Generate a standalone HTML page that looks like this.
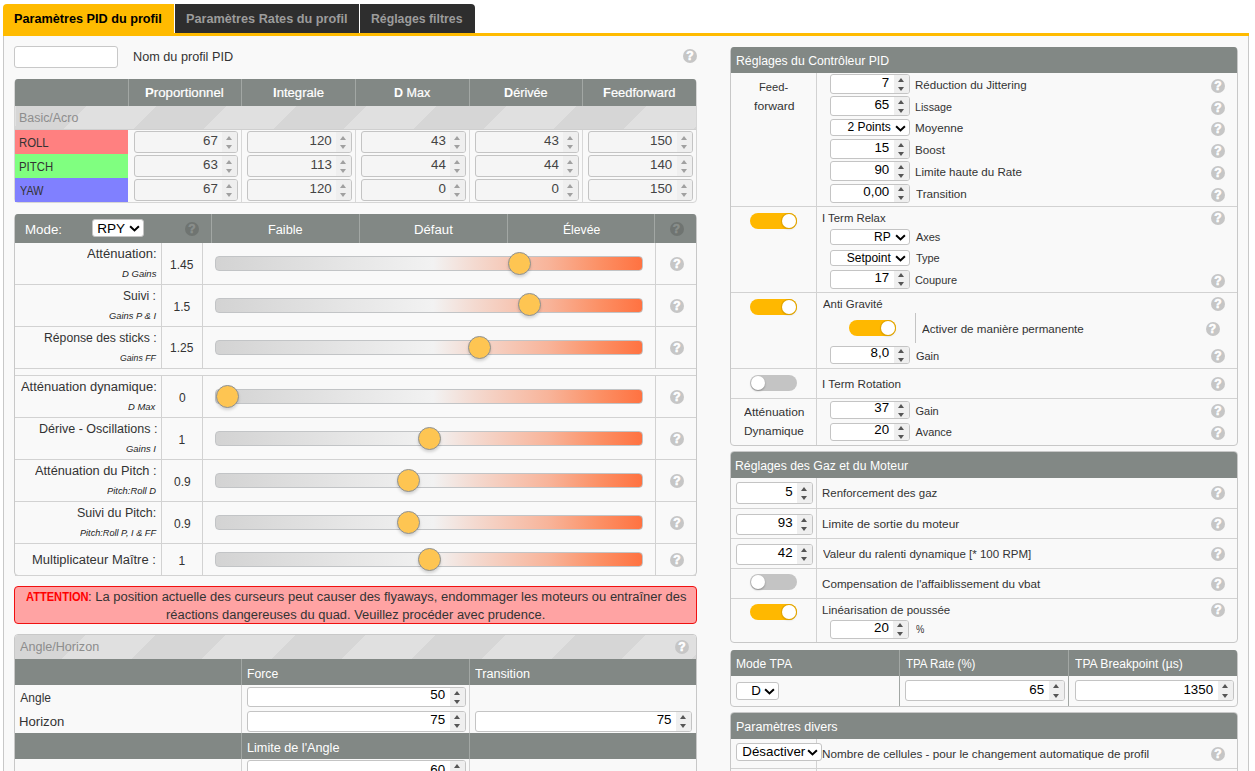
<!DOCTYPE html>
<html lang="fr"><head><meta charset="utf-8"><title>PID Tuning</title>
<style>
*{margin:0;padding:0;box-sizing:border-box}
html,body{width:1255px;height:771px;overflow:hidden;background:#fff}
body{position:relative;font-family:"Liberation Sans", Arial, sans-serif;color:#333}
body>div{position:absolute}
.t{white-space:nowrap}
.hp{width:14px;height:14px;border-radius:50%;background:#c6c6c6;color:#fff;font:bold 12px/14.5px "Liberation Sans", Arial, sans-serif;text-align:center;-webkit-text-stroke:0.6px #fff}
.hp.dk{background:#6f7471;color:#8a8f8c;-webkit-text-stroke:0.6px #8a8f8c}
.ni{background:#fff;border:1px solid #c4c4c4;border-radius:3px;color:#000;white-space:nowrap;overflow:hidden}
.ni.dis{background:#f5f5f5;color:#444}
.ni .v{position:absolute;right:19.5px;top:-1.5px}
.ni .sp{position:absolute;right:0;top:0;bottom:0;width:15px;background:#efefef}
.ni .sp:before,.ni .sp:after{content:"";position:absolute;left:4px;border-left:3.5px solid transparent;border-right:3.5px solid transparent}
.ni .sp:before{top:calc(50% - 6.2px);border-bottom:4px solid #555}
.ni .sp:after{bottom:calc(50% - 7px);border-top:4px solid #555}
.ni.dis .sp:before{border-bottom-color:#a0a0a0}
.ni.dis .sp:after{border-top-color:#a0a0a0}
.sel{background:#fff;border:1px solid #c4c4c4;border-radius:3px;color:#000;white-space:nowrap;overflow:hidden}
.sel .v{position:absolute;top:0}
.sel .chev{position:absolute;right:3px;top:50%;margin-top:-3px}
.tg{width:47px;height:16px;border-radius:8px;background:#c4c4c4}
.tg i{position:absolute;left:1px;top:1px;width:14px;height:14px;border-radius:50%;background:#fff;box-shadow:0 1px 2px rgba(0,0,0,.3)}
.tg.on{background:#ffb800}
.tg.on i{left:32px;box-shadow:0 0 0 1px #e0a400,0 1px 2px rgba(0,0,0,.25)}
.trk{border-radius:4px;border:1px solid #c2c4c6;background:linear-gradient(90deg,#d3d3d3 0%,#f2f2f2 51%,#f4d9cf 61%,#f8b49a 78%,#fc9065 90%,#ff7241 100%)}
.thumb{width:23px;height:23px;border-radius:50%;background:#fec552;border:1px solid #8c9196;box-shadow:0 2px 3px rgba(0,0,0,.15)}
</style></head><body>
<div style="left:3px;top:4px;width:171px;height:29px;background:#ffbb00;border-radius:4px 0 0 0"></div>
<div class="t" style="left:14.29px;top:11px;font-size:12.5px;line-height:16px;font-weight:bold;color:#000;transform:scaleX(1.0132);transform-origin:0 0;">Paramètres PID du profil</div>
<div style="left:175px;top:4px;width:184px;height:29px;background:#2e2e2e"></div>
<div class="t" style="left:186.18px;top:11px;font-size:12.5px;line-height:16px;font-weight:bold;color:#9c9c9c;transform:scaleX(1.0153);transform-origin:0 0;">Paramètres Rates du profil</div>
<div style="left:360px;top:4px;width:114.5px;height:29px;background:#2e2e2e;border-radius:0 4px 0 0"></div>
<div class="t" style="left:371.42px;top:11px;font-size:12.5px;line-height:16px;font-weight:bold;color:#9c9c9c;transform:scaleX(0.9826);transform-origin:0 0;">Réglages filtres</div>
<div style="left:3px;top:33px;width:1246px;height:3px;background:#ffbb00"></div>
<div style="left:3px;top:36px;width:1246px;height:735px;background:#f9f9f9;border-left:1px solid #c8c8c8;border-right:1px solid #c8c8c8"></div>
<div style="left:14px;top:46px;width:104px;height:22px;background:#fff;border:1px solid #c8c8c8;border-radius:3px"></div>
<div class="t" style="left:132.74px;top:50px;font-size:12px;line-height:15px;font-weight:normal;color:#333;transform:scaleX(1.0570);transform-origin:0 0;">Nom du profil PID</div>
<div class="hp" style="left:683px;top:48.7px">?</div>
<div style="left:14px;top:78.5px;width:683px;height:124.5px;background:#f9f9f9;border:1px solid #d6d6d6;border-radius:4px"></div>
<div style="left:15px;top:78.5px;width:681px;height:27.5px;background:#828885;border-radius:3px 3px 0 0"></div>
<div style="left:128.0px;top:78.5px;width:1px;height:27.5px;background:#a2a7a4"></div>
<div class="t" style="left:145.20px;top:86px;font-size:12px;line-height:15px;font-weight:normal;color:#fff;transform:scaleX(1.1029);transform-origin:0 0;-webkit-text-stroke:0.2px #fff;"><b style="color:#fff;-webkit-text-stroke:0">P</b>roportionnel</div>
<div style="left:241.0px;top:78.5px;width:1px;height:27.5px;background:#a2a7a4"></div>
<div class="t" style="left:273.31px;top:86px;font-size:12px;line-height:15px;font-weight:normal;color:#fff;transform:scaleX(1.0911);transform-origin:0 0;-webkit-text-stroke:0.2px #fff;"><b style="color:#fff;-webkit-text-stroke:0">I</b>ntegrale</div>
<div style="left:355.0px;top:78.5px;width:1px;height:27.5px;background:#a2a7a4"></div>
<div class="t" style="left:393.76px;top:86px;font-size:12px;line-height:15px;font-weight:normal;color:#fff;transform:scaleX(1.0441);transform-origin:0 0;-webkit-text-stroke:0.2px #fff;"><b style="color:#fff;-webkit-text-stroke:0">D</b> Max</div>
<div style="left:469.0px;top:78.5px;width:1px;height:27.5px;background:#a2a7a4"></div>
<div class="t" style="left:503.75px;top:86px;font-size:12px;line-height:15px;font-weight:normal;color:#fff;transform:scaleX(1.0550);transform-origin:0 0;-webkit-text-stroke:0.2px #fff;"><b style="color:#fff;-webkit-text-stroke:0">D</b>érivée</div>
<div style="left:582.0px;top:78.5px;width:1px;height:27.5px;background:#a2a7a4"></div>
<div class="t" style="left:603.23px;top:86px;font-size:12px;line-height:15px;font-weight:normal;color:#fff;transform:scaleX(1.0742);transform-origin:0 0;-webkit-text-stroke:0.2px #fff;"><b style="color:#fff;-webkit-text-stroke:0">F</b>eedforward</div>
<div style="left:15px;top:106px;width:681px;height:23.7px;background:repeating-linear-gradient(135deg,#d6d6d6 0px,#d6d6d6 49.5px,#e0e0e0 49.5px,#e0e0e0 99px);background-position:1px 0"></div>
<div class="t" style="left:19.17px;top:111px;font-size:12px;line-height:15px;font-weight:normal;color:#8d8d8d;transform:scaleX(1.0339);transform-origin:0 0;">Basic/Acro</div>
<div style="left:15px;top:129.2px;width:681px;height:1px;background:#cfcfcf"></div>
<div style="left:15px;top:130px;width:113px;height:24.2px;background:#ff8080"></div>
<div class="t" style="left:19.25px;top:136px;font-size:12px;line-height:15px;font-weight:normal;color:#333;transform:scaleX(0.9467);transform-origin:0 0;">ROLL</div>
<div class="ni dis" style="left:134.3px;top:131.3px;width:104.0px;height:21.5px;line-height:19.5px;font-size:13.33px"><span class="v">67</span><span class="sp"></span></div>
<div class="ni dis" style="left:247.3px;top:131.3px;width:105.0px;height:21.5px;line-height:19.5px;font-size:13.33px"><span class="v">120</span><span class="sp"></span></div>
<div class="ni dis" style="left:361.3px;top:131.3px;width:105.0px;height:21.5px;line-height:19.5px;font-size:13.33px"><span class="v">43</span><span class="sp"></span></div>
<div class="ni dis" style="left:475.3px;top:131.3px;width:103.99999999999994px;height:21.5px;line-height:19.5px;font-size:13.33px"><span class="v">43</span><span class="sp"></span></div>
<div class="ni dis" style="left:588.3px;top:131.3px;width:104.5px;height:21.5px;line-height:19.5px;font-size:13.33px"><span class="v">150</span><span class="sp"></span></div>
<div style="left:15px;top:154px;width:113px;height:24.2px;background:#80ff80"></div>
<div class="t" style="left:19.25px;top:160px;font-size:12px;line-height:15px;font-weight:normal;color:#333;transform:scaleX(0.9471);transform-origin:0 0;">PITCH</div>
<div class="ni dis" style="left:134.3px;top:155.3px;width:104.0px;height:21.5px;line-height:19.5px;font-size:13.33px"><span class="v">63</span><span class="sp"></span></div>
<div class="ni dis" style="left:247.3px;top:155.3px;width:105.0px;height:21.5px;line-height:19.5px;font-size:13.33px"><span class="v">113</span><span class="sp"></span></div>
<div class="ni dis" style="left:361.3px;top:155.3px;width:105.0px;height:21.5px;line-height:19.5px;font-size:13.33px"><span class="v">44</span><span class="sp"></span></div>
<div class="ni dis" style="left:475.3px;top:155.3px;width:103.99999999999994px;height:21.5px;line-height:19.5px;font-size:13.33px"><span class="v">44</span><span class="sp"></span></div>
<div class="ni dis" style="left:588.3px;top:155.3px;width:104.5px;height:21.5px;line-height:19.5px;font-size:13.33px"><span class="v">140</span><span class="sp"></span></div>
<div style="left:15px;top:178px;width:113px;height:24.2px;background:#8080ff"></div>
<div class="t" style="left:20.20px;top:184px;font-size:12px;line-height:15px;font-weight:normal;color:#333;transform:scaleX(0.9000);transform-origin:0 0;">YAW</div>
<div class="ni dis" style="left:134.3px;top:179.3px;width:104.0px;height:21.5px;line-height:19.5px;font-size:13.33px"><span class="v">67</span><span class="sp"></span></div>
<div class="ni dis" style="left:247.3px;top:179.3px;width:105.0px;height:21.5px;line-height:19.5px;font-size:13.33px"><span class="v">120</span><span class="sp"></span></div>
<div class="ni dis" style="left:361.3px;top:179.3px;width:105.0px;height:21.5px;line-height:19.5px;font-size:13.33px"><span class="v">0</span><span class="sp"></span></div>
<div class="ni dis" style="left:475.3px;top:179.3px;width:103.99999999999994px;height:21.5px;line-height:19.5px;font-size:13.33px"><span class="v">0</span><span class="sp"></span></div>
<div class="ni dis" style="left:588.3px;top:179.3px;width:104.5px;height:21.5px;line-height:19.5px;font-size:13.33px"><span class="v">150</span><span class="sp"></span></div>
<div style="left:241.0px;top:130px;width:1px;height:72.3px;background:#d8d8d8"></div>
<div style="left:355.0px;top:130px;width:1px;height:72.3px;background:#d8d8d8"></div>
<div style="left:469.0px;top:130px;width:1px;height:72.3px;background:#d8d8d8"></div>
<div style="left:582.0px;top:130px;width:1px;height:72.3px;background:#d8d8d8"></div>
<div style="left:14px;top:213.7px;width:683px;height:362.40000000000003px;background:#f9f9f9;border:1px solid #c8c8c8;border-radius:4px"></div>
<div style="left:15px;top:214.0px;width:681px;height:29px;background:#828885;border-radius:3px 3px 0 0"></div>
<div class="t" style="left:24.89px;top:223px;font-size:12px;line-height:15px;font-weight:normal;color:#fff;transform:scaleX(1.1097);transform-origin:0 0;">Mode:</div>
<div class="sel" style="left:92.4px;top:219.4px;width:51.3px;height:17.9px;line-height:15.899999999999999px;font-size:13.6px"><span class="v" style="left:3.8px;top:0.8px">RPY</span><svg class="chev" width="11" height="7" viewBox="0 0 11 7"><path d="M1.1 1.2 L5.5 5.4 L9.9 1.2" fill="none" stroke="#000" stroke-width="2"/></svg></div>
<div class="hp dk" style="left:185px;top:221.7px">?</div>
<div style="left:210.8px;top:213.7px;width:1px;height:29.3px;background:#a2a7a4"></div>
<div style="left:359.0px;top:213.7px;width:1px;height:29.3px;background:#a2a7a4"></div>
<div style="left:507.1px;top:213.7px;width:1px;height:29.3px;background:#a2a7a4"></div>
<div style="left:654.1px;top:213.7px;width:1px;height:29.3px;background:#a2a7a4"></div>
<div class="t" style="left:268.14px;top:223px;font-size:12px;line-height:15px;font-weight:normal;color:#fff;transform:scaleX(1.0613);transform-origin:0 0;">Faible</div>
<div class="t" style="left:414.30px;top:223px;font-size:12px;line-height:15px;font-weight:normal;color:#fff;transform:scaleX(1.0971);transform-origin:0 0;">Défaut</div>
<div class="t" style="left:563.19px;top:223px;font-size:12px;line-height:15px;font-weight:normal;color:#fff;transform:scaleX(1.0143);transform-origin:0 0;">Élevée</div>
<div class="hp dk" style="left:669.5px;top:221.7px">?</div>
<div style="left:15px;top:283.5px;width:681px;height:1px;background:#d2d2d2"></div>
<div style="left:161.1px;top:243px;width:1px;height:41.10000000000002px;background:#d2d2d2"></div>
<div style="left:202px;top:243px;width:1px;height:41.10000000000002px;background:#d2d2d2"></div>
<div style="left:655px;top:243px;width:1px;height:41.10000000000002px;background:#d2d2d2"></div>
<div class="t" style="left:87.00px;top:247px;font-size:12px;line-height:15px;font-weight:normal;color:#333;transform:scaleX(1.0873);transform-origin:0 0;">Atténuation:</div>
<div class="t" style="left:121.80px;top:269px;font-size:9px;line-height:11px;font-weight:normal;font-style:italic;color:#1e1e1e;transform:scaleX(1.0594);transform-origin:0 0;">D Gains</div>
<div class="t" style="left:170.00px;top:258px;font-size:12px;line-height:15px;font-weight:normal;color:#333;">1.45</div>
<div class="trk" style="left:215px;top:256.25px;width:427.5px;height:14.8px;"></div>
<div class="thumb" style="left:507.9px;top:251.85000000000002px"></div>
<div class="hp" style="left:670px;top:257.05px">?</div>
<div style="left:15px;top:325.59999999999997px;width:681px;height:1px;background:#d2d2d2"></div>
<div style="left:161.1px;top:284.1px;width:1px;height:42.099999999999966px;background:#d2d2d2"></div>
<div style="left:202px;top:284.1px;width:1px;height:42.099999999999966px;background:#d2d2d2"></div>
<div style="left:655px;top:284.1px;width:1px;height:42.099999999999966px;background:#d2d2d2"></div>
<div class="t" style="left:123.29px;top:289px;font-size:12px;line-height:15px;font-weight:normal;color:#333;transform:scaleX(1.0065);transform-origin:0 0;">Suivi :</div>
<div class="t" style="left:108.80px;top:311px;font-size:9px;line-height:11px;font-weight:normal;font-style:italic;color:#1e1e1e;transform:scaleX(1.0422);transform-origin:0 0;">Gains P &amp; I</div>
<div class="t" style="left:173.50px;top:300px;font-size:12px;line-height:15px;font-weight:normal;color:#333;">1.5</div>
<div class="trk" style="left:215px;top:297.84999999999997px;width:427.5px;height:14.8px;"></div>
<div class="thumb" style="left:517.5px;top:293.45px"></div>
<div class="hp" style="left:670px;top:298.65px">?</div>
<div style="left:15px;top:368.0px;width:681px;height:1px;background:#d2d2d2"></div>
<div style="left:161.1px;top:326.2px;width:1px;height:42.400000000000034px;background:#d2d2d2"></div>
<div style="left:202px;top:326.2px;width:1px;height:42.400000000000034px;background:#d2d2d2"></div>
<div style="left:655px;top:326.2px;width:1px;height:42.400000000000034px;background:#d2d2d2"></div>
<div class="t" style="left:43.68px;top:331px;font-size:12px;line-height:15px;font-weight:normal;color:#333;transform:scaleX(1.0165);transform-origin:0 0;">Réponse des sticks :</div>
<div class="t" style="left:119.90px;top:353px;font-size:9px;line-height:11px;font-weight:normal;font-style:italic;color:#1e1e1e;transform:scaleX(0.9676);transform-origin:0 0;">Gains FF</div>
<div class="t" style="left:170.00px;top:341px;font-size:12px;line-height:15px;font-weight:normal;color:#333;">1.25</div>
<div class="trk" style="left:215px;top:340.09999999999997px;width:427.5px;height:14.8px;"></div>
<div class="thumb" style="left:467.5px;top:335.7px"></div>
<div class="hp" style="left:670px;top:340.9px">?</div>
<div style="left:15px;top:416.79999999999995px;width:681px;height:1px;background:#d2d2d2"></div>
<div style="left:161.1px;top:375.8px;width:1px;height:41.599999999999966px;background:#d2d2d2"></div>
<div style="left:202px;top:375.8px;width:1px;height:41.599999999999966px;background:#d2d2d2"></div>
<div style="left:655px;top:375.8px;width:1px;height:41.599999999999966px;background:#d2d2d2"></div>
<div class="t" style="left:20.90px;top:380px;font-size:12px;line-height:15px;font-weight:normal;color:#333;transform:scaleX(1.0768);transform-origin:0 0;">Atténuation dynamique:</div>
<div class="t" style="left:128.40px;top:402px;font-size:9px;line-height:11px;font-weight:normal;font-style:italic;color:#1e1e1e;transform:scaleX(1.0500);transform-origin:0 0;">D Max</div>
<div class="t" style="left:179.00px;top:391px;font-size:12px;line-height:15px;font-weight:normal;color:#333;">0</div>
<div class="trk" style="left:215px;top:389.3px;width:427.5px;height:14.8px;"></div>
<div class="thumb" style="left:215.9px;top:384.90000000000003px"></div>
<div class="hp" style="left:670px;top:390.1px">?</div>
<div style="left:15px;top:458.9px;width:681px;height:1px;background:#d2d2d2"></div>
<div style="left:161.1px;top:417.4px;width:1px;height:42.10000000000002px;background:#d2d2d2"></div>
<div style="left:202px;top:417.4px;width:1px;height:42.10000000000002px;background:#d2d2d2"></div>
<div style="left:655px;top:417.4px;width:1px;height:42.10000000000002px;background:#d2d2d2"></div>
<div class="t" style="left:38.56px;top:422px;font-size:12px;line-height:15px;font-weight:normal;color:#333;transform:scaleX(1.0441);transform-origin:0 0;">Dérive - Oscillations :</div>
<div class="t" style="left:126.30px;top:444px;font-size:9px;line-height:11px;font-weight:normal;font-style:italic;color:#1e1e1e;transform:scaleX(1.0500);transform-origin:0 0;">Gains I</div>
<div class="t" style="left:178.50px;top:433px;font-size:12px;line-height:15px;font-weight:normal;color:#333;">1</div>
<div class="trk" style="left:215px;top:431.15px;width:427.5px;height:14.8px;"></div>
<div class="thumb" style="left:417.5px;top:426.75px"></div>
<div class="hp" style="left:670px;top:431.95px">?</div>
<div style="left:15px;top:500.5px;width:681px;height:1px;background:#d2d2d2"></div>
<div style="left:161.1px;top:459.5px;width:1px;height:41.60000000000002px;background:#d2d2d2"></div>
<div style="left:202px;top:459.5px;width:1px;height:41.60000000000002px;background:#d2d2d2"></div>
<div style="left:655px;top:459.5px;width:1px;height:41.60000000000002px;background:#d2d2d2"></div>
<div class="t" style="left:35.10px;top:464px;font-size:12px;line-height:15px;font-weight:normal;color:#333;transform:scaleX(1.0655);transform-origin:0 0;">Atténuation du Pitch :</div>
<div class="t" style="left:106.80px;top:486px;font-size:9px;line-height:11px;font-weight:normal;font-style:italic;color:#1e1e1e;transform:scaleX(1.0404);transform-origin:0 0;">Pitch:Roll D</div>
<div class="t" style="left:174.00px;top:475px;font-size:12px;line-height:15px;font-weight:normal;color:#333;">0.9</div>
<div class="trk" style="left:215px;top:473.0px;width:427.5px;height:14.8px;"></div>
<div class="thumb" style="left:396.7px;top:468.6px"></div>
<div class="hp" style="left:670px;top:473.8px">?</div>
<div style="left:15px;top:543.0px;width:681px;height:1px;background:#d2d2d2"></div>
<div style="left:161.1px;top:501.1px;width:1px;height:42.5px;background:#d2d2d2"></div>
<div style="left:202px;top:501.1px;width:1px;height:42.5px;background:#d2d2d2"></div>
<div style="left:655px;top:501.1px;width:1px;height:42.5px;background:#d2d2d2"></div>
<div class="t" style="left:77.46px;top:506px;font-size:12px;line-height:15px;font-weight:normal;color:#333;transform:scaleX(1.0405);transform-origin:0 0;">Suivi du Pitch:</div>
<div class="t" style="left:79.60px;top:528px;font-size:9px;line-height:11px;font-weight:normal;font-style:italic;color:#1e1e1e;transform:scaleX(1.0147);transform-origin:0 0;">Pitch:Roll P, I &amp; FF</div>
<div class="t" style="left:174.00px;top:517px;font-size:12px;line-height:15px;font-weight:normal;color:#333;">0.9</div>
<div class="trk" style="left:215px;top:515.0500000000001px;width:427.5px;height:14.8px;"></div>
<div class="thumb" style="left:396.7px;top:510.65000000000003px"></div>
<div class="hp" style="left:670px;top:515.85px">?</div>
<div style="left:15px;top:575.0px;width:681px;height:1px;background:#d2d2d2"></div>
<div style="left:161.1px;top:543.6px;width:1px;height:32.0px;background:#d2d2d2"></div>
<div style="left:202px;top:543.6px;width:1px;height:32.0px;background:#d2d2d2"></div>
<div style="left:655px;top:543.6px;width:1px;height:32.0px;background:#d2d2d2"></div>
<div class="t" style="left:32.42px;top:553px;font-size:12px;line-height:15px;font-weight:normal;color:#333;transform:scaleX(1.0796);transform-origin:0 0;">Multiplicateur Maître :</div>
<div class="t" style="left:178.50px;top:554px;font-size:12px;line-height:15px;font-weight:normal;color:#333;">1</div>
<div class="trk" style="left:215px;top:552.3000000000001px;width:427.5px;height:14.8px;"></div>
<div class="thumb" style="left:417.5px;top:547.9px"></div>
<div class="hp" style="left:670px;top:553.1px">?</div>
<div style="left:15px;top:368.4px;width:681px;height:1px;background:#d2d2d2"></div>
<div style="left:15px;top:375.3px;width:681px;height:1px;background:#d2d2d2"></div>
<div style="left:14px;top:586px;width:683px;height:38px;background:#ffa3a3;border:1px solid #f01010;border-radius:4px"></div>
<div class="t" style="left:25.50px;top:590px;font-size:12px;line-height:15px;font-weight:bold;color:#f00;transform:scaleX(0.9239);transform-origin:0 0;">ATTENTION</div>
<div class="t" style="left:87.52px;top:590px;font-size:12px;line-height:15px;font-weight:normal;color:#333;transform:scaleX(1.0822);transform-origin:0 0;">: La position actuelle des curseurs peut causer des flyaways, endommager les moteurs ou entraîner des</div>
<div class="t" style="left:166.12px;top:608px;font-size:12px;line-height:15px;font-weight:normal;color:#333;transform:scaleX(1.0766);transform-origin:0 0;">réactions dangereuses du quad. Veuillez procéder avec prudence.</div>
<div style="left:14px;top:634px;width:683px;height:143px;background:#f9f9f9;border:1px solid #c8c8c8;border-radius:4px"></div>
<div style="left:15px;top:635px;width:681px;height:23.7px;background:repeating-linear-gradient(135deg,#d6d6d6 0px,#d6d6d6 49.5px,#e0e0e0 49.5px,#e0e0e0 99px);border-radius:3px 3px 0 0"></div>
<div class="t" style="left:20.30px;top:640px;font-size:12px;line-height:15px;font-weight:normal;color:#8d8d8d;transform:scaleX(1.0507);transform-origin:0 0;">Angle/Horizon</div>
<div class="hp" style="left:675px;top:640px">?</div>
<div style="left:15px;top:658.7px;width:681px;height:26px;background:#828885"></div>
<div style="left:241px;top:658.7px;width:1px;height:26px;background:#a2a7a4"></div>
<div style="left:469px;top:658.7px;width:1px;height:26px;background:#a2a7a4"></div>
<div class="t" style="left:246.58px;top:667px;font-size:12px;line-height:15px;font-weight:normal;color:#fff;transform:scaleX(1.0172);transform-origin:0 0;">Force</div>
<div class="t" style="left:475.20px;top:667px;font-size:12px;line-height:15px;font-weight:normal;color:#fff;transform:scaleX(1.0519);transform-origin:0 0;">Transition</div>
<div class="t" style="left:20.30px;top:691px;font-size:12px;line-height:15px;font-weight:normal;color:#333;">Angle</div>
<div class="t" style="left:19.21px;top:715px;font-size:12px;line-height:15px;font-weight:normal;color:#333;transform:scaleX(1.0950);transform-origin:0 0;">Horizon</div>
<div style="left:241px;top:684.7px;width:1px;height:48.5px;background:#d2d2d2"></div>
<div style="left:469px;top:684.7px;width:1px;height:48.5px;background:#d2d2d2"></div>
<div class="ni" style="left:247px;top:686.6px;width:218.6px;height:20.6px;line-height:18.6px;font-size:13.33px"><span class="v">50</span><span class="sp"></span></div>
<div class="ni" style="left:247px;top:710.7px;width:218.6px;height:21.2px;line-height:19.2px;font-size:13.33px"><span class="v">75</span><span class="sp"></span></div>
<div class="ni" style="left:475px;top:710.7px;width:217px;height:21.2px;line-height:19.2px;font-size:13.33px"><span class="v">75</span><span class="sp"></span></div>
<div style="left:15px;top:733.2px;width:681px;height:25.5px;background:#828885"></div>
<div style="left:241px;top:733.2px;width:1px;height:25.5px;background:#a2a7a4"></div>
<div style="left:469px;top:733.2px;width:1px;height:25.5px;background:#a2a7a4"></div>
<div class="t" style="left:246.55px;top:741px;font-size:12px;line-height:15px;font-weight:normal;color:#fff;transform:scaleX(1.0547);transform-origin:0 0;">Limite de l'Angle</div>
<div style="left:241px;top:758.7px;width:1px;height:20px;background:#d2d2d2"></div>
<div style="left:469px;top:758.7px;width:1px;height:20px;background:#d2d2d2"></div>
<div class="ni" style="left:247px;top:760px;width:218.6px;height:21px;line-height:19px;font-size:13.33px"><span class="v">60</span><span class="sp"></span></div>
<div style="left:730px;top:46.7px;width:508px;height:399.3px;background:#f9f9f9;border:1px solid #c8c8c8;border-radius:4px"></div>
<div style="left:731px;top:47.0px;width:506px;height:26.0px;background:#828885;border-radius:3px 3px 0 0"></div>
<div class="t" style="left:735.78px;top:54px;font-size:12px;line-height:15px;font-weight:normal;color:#fff;transform:scaleX(1.0201);transform-origin:0 0;">Réglages du Contrôleur PID</div>
<div style="left:816.0px;top:73px;width:1px;height:372.3px;background:#d2d2d2"></div>
<div style="left:731px;top:206.2px;width:506px;height:1px;background:#d2d2d2"></div>
<div style="left:731px;top:291.5px;width:506px;height:1px;background:#d2d2d2"></div>
<div style="left:731px;top:367.8px;width:506px;height:1px;background:#d2d2d2"></div>
<div style="left:731px;top:397.7px;width:506px;height:1px;background:#d2d2d2"></div>
<div class="t" style="left:758.79px;top:80px;font-size:11px;line-height:14px;font-weight:normal;color:#333;transform:scaleX(1.0148);transform-origin:0 0;">Feed-</div>
<div class="t" style="left:753.80px;top:99px;font-size:11px;line-height:14px;font-weight:normal;color:#333;transform:scaleX(1.1083);transform-origin:0 0;">forward</div>
<div class="ni" style="left:830.4px;top:74.2px;width:79.4px;height:19.4px;line-height:17.4px;font-size:13.33px"><span class="v">7</span><span class="sp"></span></div>
<div class="t" style="left:914.85px;top:78px;font-size:11px;line-height:14px;font-weight:normal;color:#333;transform:scaleX(1.0486);transform-origin:0 0;">Réduction du Jittering</div>
<div class="hp" style="left:1211px;top:79px">?</div>
<div class="ni" style="left:830.4px;top:96.4px;width:79.4px;height:19.4px;line-height:17.4px;font-size:13.33px"><span class="v">65</span><span class="sp"></span></div>
<div class="t" style="left:914.92px;top:100px;font-size:11px;line-height:14px;font-weight:normal;color:#333;transform:scaleX(0.9757);transform-origin:0 0;">Lissage</div>
<div class="hp" style="left:1211px;top:101px">?</div>
<div class="sel" style="left:830.4px;top:119.3px;width:79.4px;height:17.2px;line-height:15.2px;font-size:12px"><span class="v" style="right:18px;top:0px">2 Points</span><svg class="chev" width="11" height="7" viewBox="0 0 11 7"><path d="M1.1 1.2 L5.5 5.4 L9.9 1.2" fill="none" stroke="#000" stroke-width="2"/></svg></div>
<div class="t" style="left:914.83px;top:121px;font-size:11px;line-height:14px;font-weight:normal;color:#333;transform:scaleX(1.0659);transform-origin:0 0;">Moyenne</div>
<div class="hp" style="left:1211px;top:122px">?</div>
<div class="ni" style="left:830.4px;top:139.3px;width:79.4px;height:19.4px;line-height:17.4px;font-size:13.33px"><span class="v">15</span><span class="sp"></span></div>
<div class="t" style="left:914.84px;top:143px;font-size:11px;line-height:14px;font-weight:normal;color:#333;transform:scaleX(1.0630);transform-origin:0 0;">Boost</div>
<div class="hp" style="left:1211px;top:144px">?</div>
<div class="ni" style="left:830.4px;top:161.4px;width:79.4px;height:19.4px;line-height:17.4px;font-size:13.33px"><span class="v">90</span><span class="sp"></span></div>
<div class="t" style="left:914.85px;top:165px;font-size:11px;line-height:14px;font-weight:normal;color:#333;transform:scaleX(1.0530);transform-origin:0 0;">Limite haute du Rate</div>
<div class="hp" style="left:1211px;top:166px">?</div>
<div class="ni" style="left:830.4px;top:183.6px;width:79.4px;height:19.4px;line-height:17.4px;font-size:13.33px"><span class="v">0,00</span><span class="sp"></span></div>
<div class="t" style="left:915.90px;top:187px;font-size:11px;line-height:14px;font-weight:normal;color:#333;transform:scaleX(1.0596);transform-origin:0 0;">Transition</div>
<div class="hp" style="left:1211px;top:188px">?</div>
<div class="tg on" style="left:750px;top:213px"><i></i></div>
<div class="t" style="left:821.57px;top:211px;font-size:11px;line-height:14px;font-weight:normal;color:#333;transform:scaleX(1.0333);transform-origin:0 0;">I Term Relax</div>
<div class="hp" style="left:1211px;top:211px">?</div>
<div class="sel" style="left:830.4px;top:228.6px;width:79.4px;height:16.8px;line-height:14.8px;font-size:12px"><span class="v" style="right:18px;top:0px">RP</span><svg class="chev" width="11" height="7" viewBox="0 0 11 7"><path d="M1.1 1.2 L5.5 5.4 L9.9 1.2" fill="none" stroke="#000" stroke-width="2"/></svg></div>
<div class="t" style="left:915.90px;top:230px;font-size:11px;line-height:14px;font-weight:normal;color:#333;">Axes</div>
<div class="sel" style="left:830.4px;top:249.6px;width:79.4px;height:16.8px;line-height:14.8px;font-size:12px"><span class="v" style="right:18px;top:0px">Setpoint</span><svg class="chev" width="11" height="7" viewBox="0 0 11 7"><path d="M1.1 1.2 L5.5 5.4 L9.9 1.2" fill="none" stroke="#000" stroke-width="2"/></svg></div>
<div class="t" style="left:915.90px;top:251px;font-size:11px;line-height:14px;font-weight:normal;color:#333;">Type</div>
<div class="ni" style="left:830.4px;top:269.5px;width:79.4px;height:19.1px;line-height:17.1px;font-size:13.33px"><span class="v">17</span><span class="sp"></span></div>
<div class="t" style="left:914.90px;top:273px;font-size:11px;line-height:14px;font-weight:normal;color:#333;">Coupure</div>
<div class="hp" style="left:1211px;top:273.5px">?</div>
<div class="tg on" style="left:750px;top:299px"><i></i></div>
<div class="t" style="left:822.70px;top:297px;font-size:11px;line-height:14px;font-weight:normal;color:#333;transform:scaleX(1.0368);transform-origin:0 0;">Anti Gravité</div>
<div class="hp" style="left:1211px;top:297px">?</div>
<div class="tg on" style="left:849px;top:320px"><i></i></div>
<div style="left:915px;top:313.2px;width:1px;height:29.7px;background:#c4c4c4"></div>
<div class="t" style="left:922.00px;top:322px;font-size:11px;line-height:14px;font-weight:normal;color:#333;transform:scaleX(1.0542);transform-origin:0 0;">Activer de manière permanente</div>
<div class="hp" style="left:1205.5px;top:322px">?</div>
<div class="ni" style="left:830.4px;top:345.5px;width:79.2px;height:18.8px;line-height:16.8px;font-size:13.33px"><span class="v">8,0</span><span class="sp"></span></div>
<div class="t" style="left:915.90px;top:349px;font-size:11px;line-height:14px;font-weight:normal;color:#333;">Gain</div>
<div class="hp" style="left:1211px;top:349px">?</div>
<div class="tg" style="left:750px;top:375px"><i></i></div>
<div class="t" style="left:821.64px;top:377px;font-size:11px;line-height:14px;font-weight:normal;color:#333;transform:scaleX(1.0630);transform-origin:0 0;">I Term Rotation</div>
<div class="hp" style="left:1211px;top:377px">?</div>
<div class="t" style="left:744.00px;top:405px;font-size:11px;line-height:14px;font-weight:normal;color:#333;transform:scaleX(1.0855);transform-origin:0 0;">Atténuation</div>
<div class="t" style="left:743.72px;top:424px;font-size:11px;line-height:14px;font-weight:normal;color:#333;transform:scaleX(1.0759);transform-origin:0 0;">Dynamique</div>
<div class="ni" style="left:830.4px;top:400.5px;width:79.2px;height:18.6px;line-height:16.6px;font-size:13.33px"><span class="v">37</span><span class="sp"></span></div>
<div class="t" style="left:915.50px;top:404px;font-size:11px;line-height:14px;font-weight:normal;color:#333;">Gain</div>
<div class="hp" style="left:1211px;top:404px">?</div>
<div class="ni" style="left:830.4px;top:422.5px;width:79.2px;height:18.6px;line-height:16.6px;font-size:13.33px"><span class="v">20</span><span class="sp"></span></div>
<div class="t" style="left:915.50px;top:425px;font-size:11px;line-height:14px;font-weight:normal;color:#333;">Avance</div>
<div class="hp" style="left:1211px;top:426px">?</div>
<div style="left:730px;top:451.2px;width:508px;height:192.2px;background:#f9f9f9;border:1px solid #c8c8c8;border-radius:4px"></div>
<div style="left:731px;top:451.5px;width:506px;height:26.0px;background:#828885;border-radius:3px 3px 0 0"></div>
<div class="t" style="left:735.38px;top:459px;font-size:12px;line-height:15px;font-weight:normal;color:#fff;transform:scaleX(1.0213);transform-origin:0 0;">Réglages des Gaz et du Moteur</div>
<div style="left:816.0px;top:477.8px;width:1px;height:164.6px;background:#d2d2d2"></div>
<div style="left:731px;top:507.9px;width:506px;height:1px;background:#d2d2d2"></div>
<div style="left:731px;top:538.1px;width:506px;height:1px;background:#d2d2d2"></div>
<div style="left:731px;top:568.3px;width:506px;height:1px;background:#d2d2d2"></div>
<div style="left:731px;top:597.9px;width:506px;height:1px;background:#d2d2d2"></div>
<div class="ni" style="left:736.4px;top:482.4px;width:76.8px;height:21.2px;line-height:19.2px;font-size:13.33px"><span class="v">5</span><span class="sp"></span></div>
<div class="t" style="left:821.56px;top:486px;font-size:11px;line-height:14px;font-weight:normal;color:#333;transform:scaleX(1.0413);transform-origin:0 0;">Renforcement des gaz</div>
<div class="hp" style="left:1211px;top:486px">?</div>
<div class="ni" style="left:736.4px;top:513.6px;width:76.8px;height:21.2px;line-height:19.2px;font-size:13.33px"><span class="v">93</span><span class="sp"></span></div>
<div class="t" style="left:821.52px;top:517px;font-size:11px;line-height:14px;font-weight:normal;color:#333;transform:scaleX(1.0794);transform-origin:0 0;">Limite de sortie du moteur</div>
<div class="hp" style="left:1211px;top:516.5px">?</div>
<div class="ni" style="left:736.4px;top:543.6px;width:76.8px;height:21.2px;line-height:19.2px;font-size:13.33px"><span class="v">42</span><span class="sp"></span></div>
<div class="t" style="left:823.00px;top:547px;font-size:11px;line-height:14px;font-weight:normal;color:#333;transform:scaleX(1.0490);transform-origin:0 0;">Valeur du ralenti dynamique [* 100 RPM]</div>
<div class="hp" style="left:1211px;top:546.5px">?</div>
<div class="tg" style="left:750px;top:574.3px"><i></i></div>
<div class="t" style="left:821.94px;top:577px;font-size:11px;line-height:14px;font-weight:normal;color:#333;transform:scaleX(1.0590);transform-origin:0 0;">Compensation de l'affaiblissement du vbat</div>
<div class="hp" style="left:1211px;top:576.5px">?</div>
<div class="tg on" style="left:750px;top:604.2px"><i></i></div>
<div class="t" style="left:821.95px;top:603px;font-size:11px;line-height:14px;font-weight:normal;color:#333;transform:scaleX(1.0488);transform-origin:0 0;">Linéarisation de poussée</div>
<div class="hp" style="left:1211px;top:602.5px">?</div>
<div class="ni" style="left:830.3px;top:619.5px;width:79px;height:19.6px;line-height:17.6px;font-size:13.33px"><span class="v">20</span><span class="sp"></span></div>
<div class="t" style="left:915.60px;top:624px;font-size:10px;line-height:12px;font-weight:normal;color:#333;transform:scaleX(0.9333);transform-origin:0 0;">%</div>
<div style="left:730px;top:650px;width:508px;height:57px;background:#f9f9f9;border:1px solid #c8c8c8;border-radius:4px"></div>
<div style="left:731px;top:650.3px;width:506px;height:25.4px;background:#828885;border-radius:3px 3px 0 0"></div>
<div style="left:899.1px;top:650px;width:1px;height:56px;background:#a2a7a4"></div>
<div style="left:1068.1px;top:650px;width:1px;height:56px;background:#a2a7a4"></div>
<div class="t" style="left:735.89px;top:657px;font-size:12px;line-height:15px;font-weight:normal;color:#fff;transform:scaleX(1.0073);transform-origin:0 0;">Mode TPA</div>
<div class="t" style="left:905.80px;top:657px;font-size:12px;line-height:15px;font-weight:normal;color:#fff;transform:scaleX(0.9583);transform-origin:0 0;">TPA Rate (%)</div>
<div class="t" style="left:1075.20px;top:657px;font-size:12px;line-height:15px;font-weight:normal;color:#fff;transform:scaleX(1.0094);transform-origin:0 0;">TPA Breakpoint (µs)</div>
<div class="sel" style="left:736.3px;top:681.5px;width:42.5px;height:18px;line-height:16px;font-size:13.33px"><span class="v" style="left:14px;top:0px">D</span><svg class="chev" width="11" height="7" viewBox="0 0 11 7"><path d="M1.1 1.2 L5.5 5.4 L9.9 1.2" fill="none" stroke="#000" stroke-width="2"/></svg></div>
<div class="ni" style="left:905.3px;top:680px;width:159.3px;height:21.4px;line-height:19.4px;font-size:13.33px"><span class="v">65</span><span class="sp"></span></div>
<div class="ni" style="left:1074.6px;top:680px;width:159px;height:21.4px;line-height:19.4px;font-size:13.33px"><span class="v">1350</span><span class="sp"></span></div>
<div style="left:730px;top:712.4px;width:508px;height:77.60000000000002px;background:#f9f9f9;border:1px solid #c8c8c8;border-radius:4px"></div>
<div style="left:731px;top:712.6999999999999px;width:506px;height:26.0px;background:#828885;border-radius:3px 3px 0 0"></div>
<div class="t" style="left:735.86px;top:720px;font-size:12px;line-height:15px;font-weight:normal;color:#fff;transform:scaleX(1.0438);transform-origin:0 0;">Paramètres divers</div>
<div style="left:816.0px;top:738.7px;width:1px;height:40px;background:#d2d2d2"></div>
<div class="sel" style="left:736.3px;top:743.2px;width:86px;height:18.3px;line-height:16.3px;font-size:13.33px"><span class="v" style="left:5px;top:0px">Désactiver</span><svg class="chev" width="11" height="7" viewBox="0 0 11 7"><path d="M1.1 1.2 L5.5 5.4 L9.9 1.2" fill="none" stroke="#000" stroke-width="2"/></svg></div>
<div class="t" style="left:821.93px;top:747px;font-size:11px;line-height:14px;font-weight:normal;color:#333;transform:scaleX(1.0656);transform-origin:0 0;">Nombre de cellules - pour le changement automatique de profil</div>
<div class="hp" style="left:1211px;top:747.4px">?</div>
<div style="left:731px;top:768.3px;width:506px;height:1px;background:#d2d2d2"></div>
</body></html>
